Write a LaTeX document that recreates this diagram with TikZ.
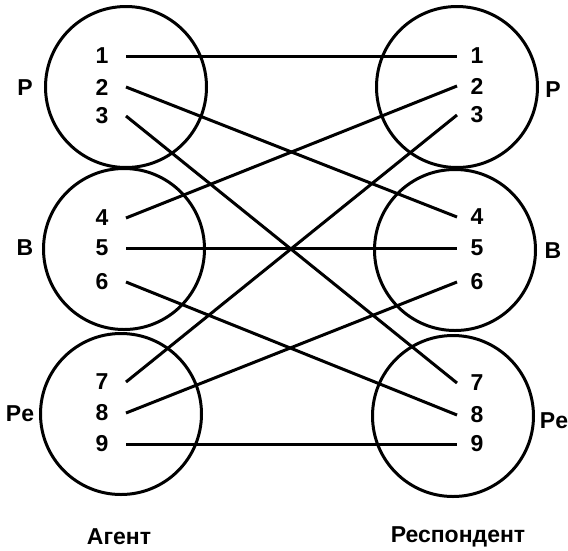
\documentclass[tikz,border=0pt]{standalone}
\usepackage{fontspec}
\setmainfont{Liberation Sans}
\begin{document}
\begin{tikzpicture}[x=1pt,y=-1pt,
  ring/.style={circle,draw,line width=3pt,minimum size=161pt,inner sep=0pt},
  num/.style={font=\bfseries\fontsize{23}{23}\selectfont,inner sep=0pt},
  lab/.style={font=\bfseries\fontsize{23}{23}\selectfont,inner sep=0pt},
  link/.style={line width=3pt}]
\useasboundingbox (0,0) rectangle (568,550);
% circles
\node[ring] (cl1) at (126,87) {};
\node[ring] (cl2) at (124,249) {};
\node[ring] (cl3) at (121,414) {};
\node[ring] (cr1) at (457,87) {};
\node[ring] (cr2) at (455,250) {};
\node[ring] (cr3) at (453,416) {};
% left numbers
\foreach \i/\y in {1/56,2/87,3/116,4/218,5/248,6/282,7/382,8/413,9/444}{
  \node[num] (nl\i) at (102,\y) {\i};
  \coordinate (l\i) at (126,\y);
}
% right numbers
\foreach \i/\y in {1/56,2/86,3/115,4/217,5/248,6/282,7/383,8/415,9/444}{
  \node[num] (nr\i) at (477,\y) {\i};
  \coordinate (r\i) at (457,\y);
}
% links
\draw[link] (l1) -- (r1);
\draw[link] (l2) -- (r4);
\draw[link] (l3) -- (r7);
\draw[link] (l4) -- (r2);
\draw[link] (l5) -- (r5);
\draw[link] (l6) -- (r8);
\draw[link] (l7) -- (r3);
\draw[link] (l8) -- (r6);
\draw[link] (l9) -- (r9);
% side labels
\node[lab] (pl) at (25,88) {P};
\node[lab] (bl) at (25,248) {B};
\node[lab] (pel) at (20,414) {Pe};
\node[lab] (pr) at (553,90) {P};
\node[lab] (br) at (553,251) {B};
\node[lab] (per) at (554,421) {Pe};
% captions
\node[lab] (agent) at (119,537) {Агент};
\node[lab] (resp) at (458,537) {Респондент};
\end{tikzpicture}
\end{document}
